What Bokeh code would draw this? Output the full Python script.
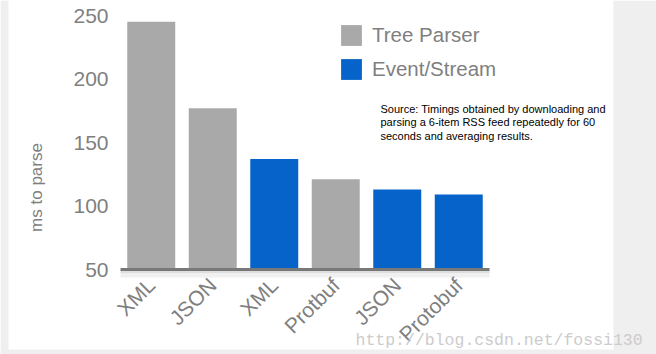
import math
from bokeh.plotting import figure
from bokeh.models import (ColumnDataSource, FixedTicker, Label, Legend, LegendItem,
                          BoxAnnotation)
from bokeh.embed import file_html
from bokeh.resources import INLINE

# ---- data ----
labels = ["XML", "JSON", "XML", "Protbuf", "JSON", "Protobuf"]
kinds = ["Tree Parser", "Tree Parser", "Event/Stream", "Tree Parser", "Event/Stream", "Event/Stream"]
values = [245, 177, 137, 121, 113, 109]
y_ticks = [50, 100, 150, 200, 250]
series = ["Tree Parser", "Event/Stream"]
colors = {"Tree Parser": "#a9a9a9", "Event/Stream": "#0563c9"}
source_note = ["Source: Timings obtained by downloading and",
               "parsing a 6-item RSS feed repeatedly for 60",
               "seconds and averaging results."]
watermark = "http://blog.csdn.net/fossi130"

xs = list(range(1, len(labels) + 1))
FONT = "Liberation Sans"
GRAY_TXT = "#7f7f7f"
W, H = 656, 354

# page-pixel -> data helpers (the frame covers the whole page)
def X(px):
    return 0.5 + (px - 120) / 61.5

def Y(py):
    return 50 + (269 - py) / 1.27

p = figure(width=W, height=H, output_backend="svg", toolbar_location=None, title=None,
           x_range=(X(0), X(W)), y_range=(Y(H), Y(0)),
           min_border=0, min_border_left=0, min_border_right=0,
           min_border_top=0, min_border_bottom=0)
p.outline_line_color = None
p.grid.visible = False
p.background_fill_color = "white"
p.border_fill_color = "white"

# gray page strips
for l, r, t, b in [(None, X(8), None, None), (X(613), None, None, None),
                   (None, None, Y(349), None)]:
    p.add_layout(BoxAnnotation(left=l, right=r, top=t, bottom=b,
                               fill_color="#efefef", fill_alpha=1, line_color=None,
                               level="underlay"))
# soft shadow under the baseline
for t, b, c in [(Y(270), Y(273), "#dedede"), (Y(273), Y(277), "#f0f0f0")]:
    p.add_layout(BoxAnnotation(left=0.5, right=6.5, top=t, bottom=b,
                               fill_color=c, fill_alpha=1, line_color=None,
                               level="underlay"))

renderers = {}
for s in series:
    idx = [i for i, k in enumerate(kinds) if k == s]
    src = ColumnDataSource(dict(x=[xs[i] for i in idx], top=[values[i] for i in idx]))
    renderers[s] = p.vbar(x="x", top="top", bottom=50, width=0.78, source=src,
                          fill_color=colors[s], line_color=None)

# y axis
ya = p.yaxis[0]
ya.fixed_location = 0.5
ya.ticker = FixedTicker(ticks=y_ticks)
ya.axis_line_color = None
ya.major_tick_line_color = None
ya.minor_tick_line_color = None
ya.major_tick_out = 0
ya.major_tick_in = 0
ya.major_label_standoff = 12
ya.major_label_text_font = FONT
ya.major_label_text_font_size = "21px"
ya.major_label_text_color = GRAY_TXT

# x axis
xa = p.xaxis[0]
xa.fixed_location = 50
xa.bounds = (0.5, 6.5)
xa.ticker = FixedTicker(ticks=xs)
xa.major_label_overrides = {x: l for x, l in zip(xs, labels)}
xa.axis_line_color = "#787878"
xa.axis_line_width = 3
xa.major_tick_line_color = None
xa.minor_tick_line_color = None
xa.major_tick_out = 0
xa.major_tick_in = 0
xa.major_label_orientation = math.pi / 4
xa.major_label_standoff = 12
xa.major_label_text_font = FONT
xa.major_label_text_font_size = "21px"
xa.major_label_text_color = GRAY_TXT

# legend
legend = Legend(items=[LegendItem(label=s, renderers=[renderers[s]]) for s in series],
                location=(338, H - 82), orientation="vertical",
                glyph_width=26, glyph_height=26, label_height=26, spacing=8,
                label_standoff=8, padding=0, margin=0,
                border_line_color=None, background_fill_alpha=0,
                label_text_font=FONT, label_text_font_size="20.5px",
                label_text_color=GRAY_TXT)
p.add_layout(legend, "center")

# y axis title
p.add_layout(Label(x=X(36), y=Y(187), text="ms to parse", angle=math.pi / 2,
                   text_align="center", text_baseline="middle",
                   text_font=FONT, text_font_size="17px", text_color=GRAY_TXT))

# source note
for line, py in zip(source_note, [102, 115.7, 129.4]):
    p.add_layout(Label(x=X(380), y=Y(py), text=line, text_align="left", text_baseline="top",
                       text_font=FONT, text_font_size="11px", text_color="black"))

# watermark
p.add_layout(Label(x=X(355), y=Y(340), text=watermark, text_align="left",
                   text_baseline="alphabetic", text_font="Liberation Mono",
                   text_font_size="16.5px", text_color="#cccccc"))

open("out.html", "w").write(file_html(p, INLINE))
